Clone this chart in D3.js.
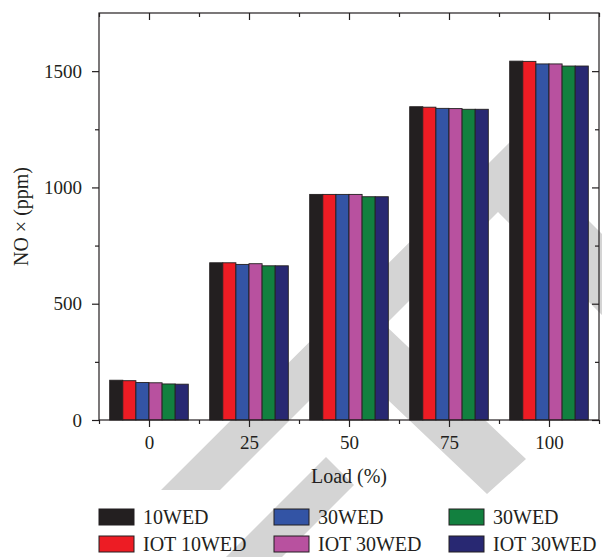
<!DOCTYPE html>
<html>
<head>
<meta charset="utf-8">
<script src="https://cdn.jsdelivr.net/npm/d3@7"></script>
<style>
  body { margin: 0; background: #fff; }
  text { font-family: "Liberation Serif", "DejaVu Serif", serif; fill: #231f20; }
</style>
</head>
<body>
<div id="chart"></div>
<script>
// load values (%) on the x axis
const loads = [0, 25, 50, 75, 100];

// series, in bar order
const seriesNames = ["10WED", "IOT 10WED", "30WED", "IOT 30WED", "30WED", "IOT 30WED"];
const seriesColors = ["#231f20", "#ed1c24", "#3354a5", "#b8519f", "#12803f", "#282872"];

// NOx (ppm)
const nox10 = [171, 676, 970, 1347, 1543];
const noxIot10 = [169, 676, 970, 1345, 1542];
const nox30a = [161, 669, 970, 1340, 1531];
const noxIot30a = [160, 672, 970, 1339, 1531];
const nox30b = [155, 663, 960, 1336, 1522];
const noxIot30b = [154, 663, 960, 1336, 1522];
const seriesValues = [nox10, noxIot10, nox30a, noxIot30a, nox30b, noxIot30b];

const yMajorTicks = [0, 500, 1000, 1500];
const yMinorTicks = [250, 750, 1250];

const W = 602, H = 557;
const margin = { top: 13, right: 3, bottom: 137, left: 99 };
const width = W - margin.left - margin.right;
const height = H - margin.top - margin.bottom;
const ink = "#231f20";

const svg = d3.select("#chart").append("svg")
    .attr("width", W)
    .attr("height", H);

// background watermark (light grey bands)
const wm = [
    [[161, 490], [510, 142], [602, 234], [602, 315], [498, 212], [385, 325], [526, 459], [487, 494], [348, 362], [220, 490]],
    [[226, 557], [326, 457], [354, 485], [282, 557]]
];
svg.append("g").selectAll("polygon")
    .data(wm)
    .enter().append("polygon")
    .attr("points", d => d.map(p => p.join(",")).join(" "))
    .attr("fill", "#d4d4d4");

const g = svg.append("g")
    .attr("transform", "translate(" + margin.left + "," + margin.top + ")");

const x = d3.scaleLinear().domain([-12.5, 112.5]).range([0, width]);
const y = d3.scaleLinear().domain([0, 1750]).range([height, 0]);

const groupW = (x(25) - x(0)) * 0.786;
const xs = d3.scaleBand()
    .domain(d3.range(seriesNames.length))
    .range([-groupW / 2, groupW / 2])
    .padding(0);

// bars
const barData = [];
seriesValues.forEach((vals, si) => {
    vals.forEach((v, li) => barData.push({ s: si, load: loads[li], value: v }));
});

g.selectAll(".bar")
    .data(barData)
    .enter().append("rect")
    .attr("class", "bar")
    .attr("x", d => x(d.load) + xs(d.s))
    .attr("y", d => y(d.value))
    .attr("width", xs.bandwidth())
    .attr("height", d => y(0) - y(d.value))
    .attr("fill", d => seriesColors[d.s])
    .attr("stroke", ink)
    .attr("stroke-width", 0.9);

// axes
const xMinor = d3.range(-12.5, 113, 25);

function styleAxis(sel) {
    sel.select(".domain").remove();
    sel.selectAll("line").attr("stroke", ink).attr("stroke-width", 1.2);
    sel.selectAll("text").attr("font-size", 19).attr("fill", ink);
}

g.append("g")
    .attr("transform", "translate(0," + height + ")")
    .call(d3.axisBottom(x).tickValues(loads).tickSize(7).tickPadding(9))
    .call(styleAxis);
g.append("g")
    .attr("transform", "translate(0," + height + ")")
    .call(d3.axisBottom(x).tickValues(xMinor).tickSize(4).tickFormat(""))
    .call(styleAxis);
g.append("g")
    .call(d3.axisTop(x).tickValues(loads).tickSize(-7).tickFormat(""))
    .call(styleAxis);
g.append("g")
    .call(d3.axisTop(x).tickValues(xMinor).tickSize(-4).tickFormat(""))
    .call(styleAxis);

g.append("g")
    .call(d3.axisLeft(y).tickValues(yMajorTicks).tickSize(7).tickPadding(10).tickFormat(d3.format("d")))
    .call(styleAxis);
g.append("g")
    .call(d3.axisLeft(y).tickValues(yMinorTicks).tickSize(4).tickFormat(""))
    .call(styleAxis);
g.append("g")
    .attr("transform", "translate(" + width + ",0)")
    .call(d3.axisRight(y).tickValues(yMajorTicks).tickSize(-7).tickFormat(""))
    .call(styleAxis);
g.append("g")
    .attr("transform", "translate(" + width + ",0)")
    .call(d3.axisRight(y).tickValues(yMinorTicks).tickSize(-4).tickFormat(""))
    .call(styleAxis);

// frame
g.append("rect")
    .attr("width", width)
    .attr("height", height)
    .attr("fill", "none")
    .attr("stroke", ink)
    .attr("stroke-width", 1.2);

// axis titles
g.append("text")
    .attr("x", x(50))
    .attr("y", height + 63)
    .attr("text-anchor", "middle")
    .attr("font-size", 20)
    .text("Load (%)");

g.append("text")
    .attr("transform", "translate(" + (-margin.left + 28) + "," + (height / 2) + ") rotate(-90)")
    .attr("text-anchor", "middle")
    .attr("font-size", 20)
    .text("NO × (ppm)");

// legend, column by column
const legend = svg.append("g");
const colX = [99, 274, 449];
const rowY = [509, 536];
seriesNames.forEach((name, i) => {
    const lx = colX[Math.floor(i / 2)];
    const ly = rowY[i % 2];
    legend.append("rect")
        .attr("x", lx)
        .attr("y", ly)
        .attr("width", 35)
        .attr("height", 16)
        .attr("fill", seriesColors[i])
        .attr("stroke", ink)
        .attr("stroke-width", 1);
    legend.append("text")
        .attr("x", lx + 44)
        .attr("y", ly + 15)
        .attr("font-size", 20)
        .text(name);
});
</script>
</body>
</html>
